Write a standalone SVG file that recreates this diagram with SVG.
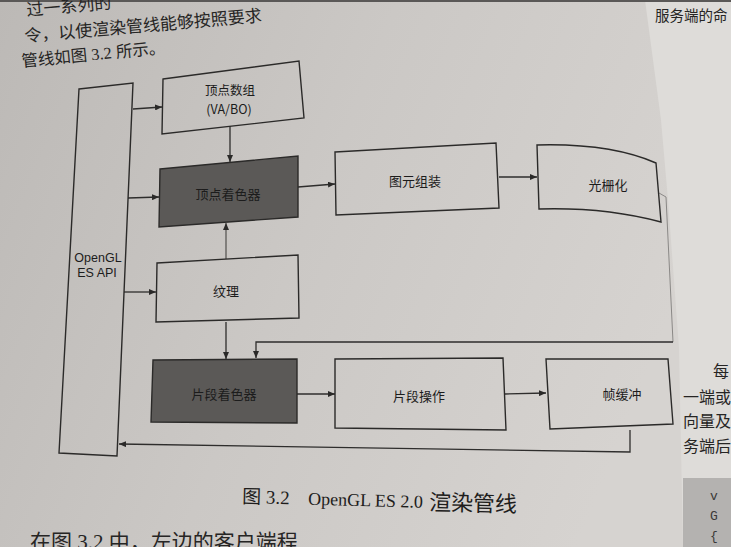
<svg xmlns="http://www.w3.org/2000/svg" width="731" height="547" viewBox="0 0 731 547">
  <defs>
    <linearGradient id="paper" x1="0" y1="0" x2="1" y2="0.3">
      <stop offset="0" stop-color="#bcb9b6"/>
      <stop offset="0.5" stop-color="#cbc8c5"/>
      <stop offset="1" stop-color="#d6d3d0"/>
    </linearGradient>
    <marker id="ah" markerWidth="7" markerHeight="6" refX="7" refY="3" orient="auto" markerUnits="userSpaceOnUse">
      <path d="M0,0 L7,3 L0,6 z" fill="#2a2928"/>
    </marker>
    <style>
      .box { fill: none; stroke: #2b2a29; stroke-width: 1.4; }
      .dark { fill: #5b5957; stroke: #2b2a29; stroke-width: 1.4; }
      .conn { fill: none; stroke: #2e2d2c; stroke-width: 1.3; marker-end: url(#ah); }
      .faint { fill: none; stroke: #8a8886; stroke-width: 1; }
      .lbl { font-family: "Noto Sans CJK SC", "Liberation Sans", sans-serif; font-size: 13px; fill: #1c1c1c; text-anchor: middle; dominant-baseline: central; }
      .api { font-family: "Liberation Sans", "Noto Sans CJK SC", sans-serif; font-size: 12.5px; fill: #1c1c1c; text-anchor: middle; dominant-baseline: central; }
      .body { font-family: "Liberation Serif", "Noto Sans CJK SC", serif; font-size: 17px; fill: #262524; }
      .side { font-family: "Liberation Serif", "Noto Sans CJK SC", serif; font-size: 16px; fill: #262524; }
      .cap { font-family: "Liberation Serif", "Noto Sans CJK SC", serif; fill: #1e1d1c; }
    </style>
  </defs>

  <!-- page background -->
  <rect x="0" y="0" width="731" height="547" fill="url(#paper)"/>
  <polygon points="645,0 731,0 731,547 683,547 679,348 668,200 661,120" fill="#dedcd9"/>
  <rect x="683" y="478" width="48" height="69" fill="#b4b2b0"/>
  <rect x="0" y="0" width="731" height="2" fill="#5a5857"/>

  <!-- surrounding book text -->
  <text class="body" x="27" y="16" transform="rotate(-5 27 16)">过一系列的</text>
  <text class="body" x="25" y="42" transform="rotate(-5 25 42)">令，以使渲染管线能够按照要求</text>
  <text class="body" x="22" y="67" style="font-size:16.5px" transform="rotate(-5.5 22 67)">管线如图 3.2 所示。</text>
  <text class="side" x="655" y="21" style="font-size:14.5px">服务端的命</text>
  <text class="side" x="713" y="377">每</text>
  <text class="side" x="683" y="403">一端或</text>
  <text class="side" x="683" y="427">向量及</text>
  <text class="side" x="683" y="452">务端后</text>
  <text x="710" y="500" font-family="Liberation Mono, monospace" font-size="13" fill="#3a3938">v</text>
  <text x="710" y="520" font-family="Liberation Mono, monospace" font-size="13" fill="#3a3938">G</text>
  <text x="710" y="540" font-family="Liberation Mono, monospace" font-size="13" fill="#3a3938">{</text>

  <!-- caption -->
  <g class="cap" transform="rotate(1.5 242 503)">
    <text x="242" y="503" font-size="19">图 3.2</text>
    <text x="308" y="503" font-size="18">OpenGL ES 2.0</text>
    <text x="429" y="505" font-size="22">渲染管线</text>
  </g>
  <text class="body" x="30" y="549" style="font-size:21px">在图 3.2 中，左边的客户端程</text>

  <!-- connectors -->
  <g id="connectors">
    <path class="conn" d="M133,109 L162,107"/>
    <path class="conn" d="M230,126 L230,162"/>
    <path class="conn" d="M128,198 L159,197"/>
    <path class="conn" d="M226,259 L226,223" style="stroke:#5a5856"/>
    <path class="conn" d="M124,292 L156,292"/>
    <path class="conn" d="M298,187 L335,184"/>
    <path class="conn" d="M499,177 L537,177"/>
    <path class="conn" d="M226,322 L226,359"/>
    <path class="faint" d="M659,193 L666,197 L673,342"/>
    <path class="conn" d="M673,342 L256,342 L256,358"/>
    <path class="conn" d="M297,394 L335,394"/>
    <path class="conn" d="M505,394 L546,393"/>
    <path class="conn" d="M630,430 L630,452 L119,444"/>
  </g>

  <!-- nodes -->
  <g id="node-api">
    <polygon class="box" points="79,89 133,83 117,456 59,453"/>
    <text class="api" x="98" y="258">OpenGL</text>
    <text class="api" x="97" y="273">ES API</text>
  </g>
  <g id="node-va">
    <polygon class="box" points="163,79 299,61 304,118 162,134"/>
    <text class="lbl" x="230" y="89" style="font-size:12.5px">顶点数组</text>
    <text class="lbl" x="229" y="108" style="font-size:12.5px">(VA/BO)</text>
  </g>
  <g id="node-vs">
    <polygon class="dark" points="160,169 298,156 298,217 159,227"/>
    <text class="lbl" x="228" y="193">顶点着色器</text>
  </g>
  <g id="node-tex">
    <polygon class="box" points="157,263 298,255 299,318 156,322"/>
    <text class="lbl" x="226" y="290">纹理</text>
  </g>
  <g id="node-pa">
    <polygon class="box" points="335,152 496,143 499,208 336,215"/>
    <text class="lbl" x="415" y="180">图元组装</text>
  </g>
  <g id="node-rast">
    <path class="box" d="M537,145 Q610,143 656,163 L661,222 Q605,207 539,209 Z"/>
    <text class="lbl" x="608" y="184">光栅化</text>
  </g>
  <g id="node-fs">
    <polygon class="dark" points="153,360 297,359 297,423 151,422"/>
    <text class="lbl" x="224" y="393">片段着色器</text>
  </g>
  <g id="node-fo">
    <polygon class="box" points="335,359 503,358 506,430 335,428"/>
    <text class="lbl" x="419" y="395">片段操作</text>
  </g>
  <g id="node-fb">
    <polygon class="box" points="546,359 668,359 673,424 550,429"/>
    <text class="lbl" x="622" y="393">帧缓冲</text>
  </g>
</svg>
